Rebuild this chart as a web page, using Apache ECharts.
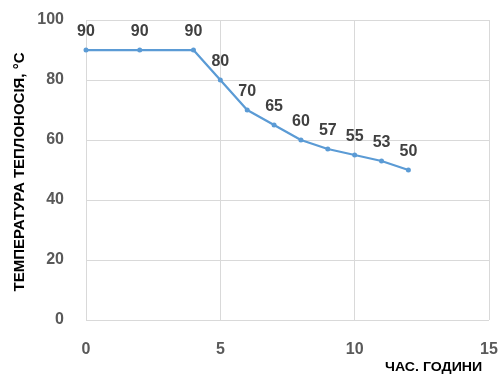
<!DOCTYPE html>
<html>
<head>
<meta charset="utf-8">
<script src="https://cdn.jsdelivr.net/npm/echarts@6/dist/echarts.min.js"></script>
<style>
  html, body { margin: 0; padding: 0; background: #fff; }
  #chart { width: 501px; height: 374px; }
</style>
</head>
<body>
<div id="chart"></div>
<script>
// hours and coolant temperature
const hours = [0, 2, 4, 5, 6, 7, 8, 9, 10, 11, 12];
const temps = [90, 90, 90, 80, 70, 65, 60, 57, 55, 53, 50];
const xTitle = 'ЧАС. ГОДИНИ';
const yTitle = 'ТЕМПЕРАТУРА ТЕПЛОНОСІЯ, °C';

const font = 'Liberation Sans, Arial, sans-serif';
const chart = echarts.init(document.getElementById('chart'));

chart.setOption({
  animation: false,
  grid: { left: 86, right: 12, top: 20, bottom: 54 },
  xAxis: {
    type: 'value',
    min: 0,
    max: 15,
    interval: 5,
    axisLine: { show: false },
    axisTick: { show: false },
    splitLine: { lineStyle: { color: '#d9d9d9', width: 1 } },
    axisLabel: {
      margin: 22,
      color: '#595959',
      fontSize: 16,
      fontWeight: 'bold',
      fontFamily: font,
    },
  },
  yAxis: {
    type: 'value',
    min: 0,
    max: 100,
    interval: 20,
    axisLine: { show: false },
    axisTick: { show: false },
    splitLine: { lineStyle: { color: '#d9d9d9', width: 1 } },
    axisLabel: {
      margin: 22,
      color: '#595959',
      fontSize: 16,
      fontWeight: 'bold',
      fontFamily: font,
    },
  },
  graphic: [
    {
      type: 'text',
      x: 385,
      y: 368,
      scaleX: 1.18,
      style: {
        text: xTitle,
        fill: '#000',
        font: 'bold 12px ' + font,
        align: 'left',
        verticalAlign: 'middle',
      },
    },
    {
      type: 'text',
      x: 20,
      y: 172,
      rotation: Math.PI / 2,
      style: {
        text: yTitle,
        fill: '#000',
        font: 'bold 15px ' + font,
        align: 'center',
        verticalAlign: 'middle',
      },
    },
  ],
  series: [
    {
      type: 'line',
      data: hours.map((h, i) => [h, temps[i]]),
      symbol: 'circle',
      symbolSize: 5,
      lineStyle: { color: '#5b9bd5', width: 2.25 },
      itemStyle: { color: '#5b9bd5' },
      label: {
        show: true,
        position: 'top',
        distance: 8,
        color: '#404040',
        fontSize: 16,
        fontWeight: 'bold',
        fontFamily: font,
        formatter: (p) => p.value[1],
      },
    },
  ],
});
</script>
</body>
</html>
